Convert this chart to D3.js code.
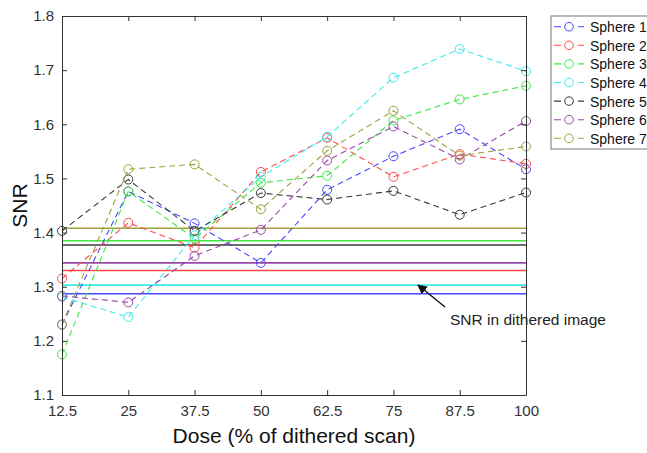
<!DOCTYPE html>
<html>
<head>
<meta charset="utf-8">
<script src="https://cdn.jsdelivr.net/npm/d3@7"></script>
<style>
  body { margin: 0; background: #fff; }
  text { font-family: "Liberation Sans", Arial, sans-serif; }
</style>
</head>
<body>
<div id="chart"></div>
<script>
const doses = [12.5, 25, 37.5, 50, 62.5, 75, 87.5, 100]
const yTicks = [1.1, 1.2, 1.3, 1.4, 1.5, 1.6, 1.7, 1.8]
const sphereNames = ['Sphere 1', 'Sphere 2', 'Sphere 3', 'Sphere 4', 'Sphere 5', 'Sphere 6', 'Sphere 7']
const sphereColors = ['#4646ff', '#ff4a4a', '#3ee83e', '#3eeaea', '#3a3a3a', '#9a48a8', '#a0a040']

const sphere1 = [1.230, 1.476, 1.417, 1.344, 1.479, 1.541, 1.591, 1.517]
const sphere2 = [1.315, 1.418, 1.372, 1.512, 1.575, 1.503, 1.545, 1.527]
const sphere3 = [1.175, 1.476, 1.389, 1.492, 1.505, 1.607, 1.646, 1.671]
const sphere4 = [1.281, 1.244, 1.395, 1.503, 1.577, 1.686, 1.739, 1.698]
const sphere5 = [1.403, 1.498, 1.403, 1.473, 1.461, 1.477, 1.433, 1.474]
const sphere6 = [1.283, 1.271, 1.357, 1.405, 1.533, 1.596, 1.535, 1.606]
const sphere7 = [1.230, 1.517, 1.526, 1.443, 1.551, 1.625, 1.542, 1.559]
const series = [sphere1, sphere2, sphere3, sphere4, sphere5, sphere6, sphere7]

// SNR of each sphere in the dithered image (solid reference lines)
const ditheredSNR = [1.287, 1.330, 1.385, 1.303, 1.377, 1.344, 1.408]

const W = 647, H = 453
const margin = { top: 16, left: 62, right: 121, bottom: 58 }
const width = W - margin.left - margin.right
const height = H - margin.top - margin.bottom

const svg = d3.select('#chart').append('svg')
  .attr('width', W)
  .attr('height', H)

const g = svg.append('g')
  .attr('transform', `translate(${margin.left}, ${margin.top})`)

const x = d3.scalePoint().domain(doses).range([0, width])
const y = d3.scaleLinear().domain([1.1, 1.8]).range([height, 0])

// reference lines
g.selectAll('.refLine').data(ditheredSNR)
  .enter()
  .append('line')
    .attr('x1', 0)
    .attr('x2', width)
    .attr('y1', d => y(d))
    .attr('y2', d => y(d))
    .attr('stroke', (d, i) => sphereColors[i])
    .attr('stroke-width', 1.6)

const line = d3.line()
  .x((d, i) => x(doses[i]))
  .y(d => y(d))

series.forEach((vals, i) => {
  g.append('path')
    .datum(vals)
    .attr('d', line)
    .attr('fill', 'none')
    .attr('stroke', sphereColors[i])
    .attr('stroke-width', 1.1)
    .attr('stroke-dasharray', '6,4')

  g.selectAll(`.pt${i}`).data(vals)
    .enter()
    .append('circle')
      .attr('cx', (d, j) => x(doses[j]))
      .attr('cy', d => y(d))
      .attr('r', 4.5)
      .attr('fill', 'none')
      .attr('stroke', sphereColors[i])
      .attr('stroke-width', 1)
})

// axes, matlab style box with inward ticks
const axisColor = '#333'
const fmtX = d => d3.format('~g')(d)

const xAxis = g.append('g')
  .attr('transform', `translate(0, ${height})`)
  .call(d3.axisBottom(x).tickSizeInner(-5).tickSizeOuter(0).tickPadding(10).tickFormat(fmtX))
const xAxisTop = g.append('g')
  .call(d3.axisTop(x).tickSizeInner(-5).tickSizeOuter(0).tickFormat(''))
const yAxis = g.append('g')
  .call(d3.axisLeft(y).tickValues(yTicks).tickSizeInner(-5).tickSizeOuter(0).tickPadding(8).tickFormat(d3.format('.1f')))
const yAxisRight = g.append('g')
  .attr('transform', `translate(${width}, 0)`)
  .call(d3.axisRight(y).tickValues(yTicks).tickSizeInner(-5).tickSizeOuter(0).tickFormat(''))

;[xAxis, xAxisTop, yAxis, yAxisRight].forEach(a => {
  a.select('.domain').attr('stroke', axisColor)
  a.selectAll('.tick line').attr('stroke', axisColor)
  a.selectAll('.tick text')
    .attr('fill', '#333')
    .style('font-size', '15px')
    .style('font-family', '"Liberation Sans", Arial, sans-serif')
})

svg.append('text')
  .attr('x', margin.left + width / 2)
  .attr('y', 443)
  .attr('text-anchor', 'middle')
  .style('font-size', '21px')
  .attr('fill', '#111')
  .text('Dose (% of dithered scan)')

svg.append('text')
  .attr('transform', `translate(27, ${margin.top + height / 2}) rotate(-90)`)
  .attr('text-anchor', 'middle')
  .style('font-size', '21px')
  .attr('fill', '#111')
  .text('SNR')

// annotation
svg.append('defs').append('marker')
  .attr('id', 'arrow')
  .attr('viewBox', '0 0 10 10')
  .attr('refX', 9)
  .attr('refY', 5)
  .attr('markerWidth', 7)
  .attr('markerHeight', 7)
  .attr('orient', 'auto')
  .append('path')
    .attr('d', 'M0,0 L10,5 L0,10 z')
    .attr('fill', '#111')

svg.append('line')
  .attr('x1', 445)
  .attr('y1', 307)
  .attr('x2', 418)
  .attr('y2', 285)
  .attr('stroke', '#111')
  .attr('stroke-width', 1.4)
  .attr('marker-end', 'url(#arrow)')

svg.append('text')
  .attr('x', 450)
  .attr('y', 325)
  .style('font-size', '15.5px')
  .attr('fill', '#222')
  .text('SNR in dithered image')

// legend
const legend = svg.append('g').attr('transform', 'translate(551, 16)')
legend.append('rect')
  .attr('width', 110)
  .attr('height', 133)
  .attr('fill', '#fff')
  .attr('stroke', '#777')

sphereNames.forEach((name, i) => {
  const ly = 10.7 + i * 18.6
  const row = legend.append('g').attr('transform', `translate(0, ${ly})`)
  row.append('line')
    .attr('x1', 3).attr('x2', 33)
    .attr('stroke', sphereColors[i])
    .attr('stroke-width', 1.1)
    .attr('stroke-dasharray', '7,5')
  row.append('circle')
    .attr('cx', 18).attr('r', 4.3)
    .attr('fill', '#fff')
    .attr('stroke', sphereColors[i])
  row.append('text')
    .attr('x', 39)
    .attr('y', 5.5)
    .style('font-size', '14px')
    .attr('fill', '#111')
    .text(name)
})
</script>
</body>
</html>
